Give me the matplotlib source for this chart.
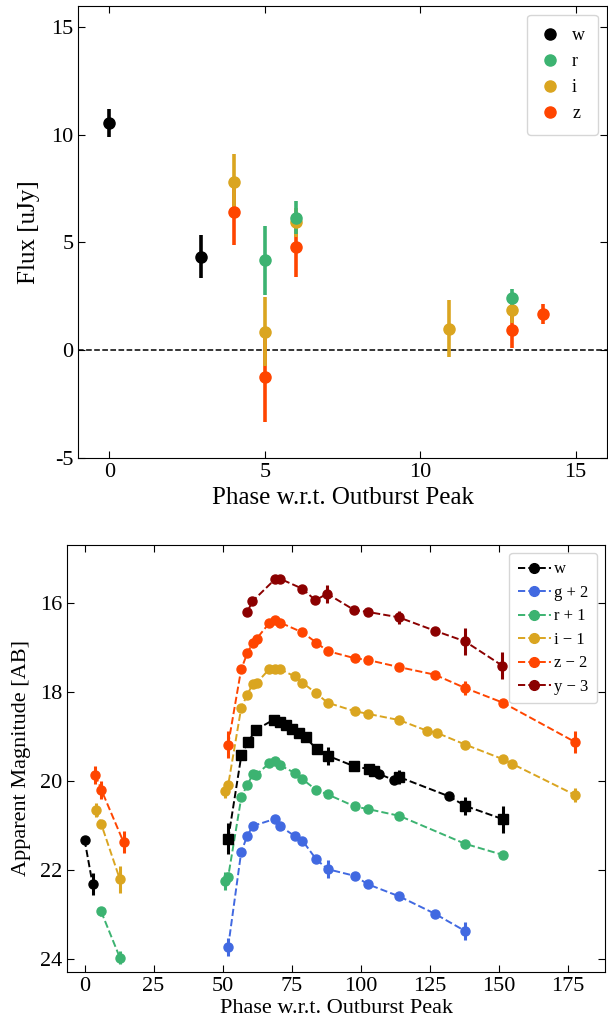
import numpy as np
import matplotlib
matplotlib.use("Agg")
import matplotlib.pyplot as plt

plt.rcParams['font.family'] = ['Liberation Serif', 'DejaVu Serif']
plt.rcParams['axes.unicode_minus'] = False

# ---------------- Top panel: flux ----------------
w_flux_x = [0.0, 2.95]
w_flux = [10.53, 4.34]
w_flux_err = [0.65, 0.99]

r_flux_x = [5.0, 6.0, 12.94]
r_flux = [4.18, 6.15, 2.40]
r_flux_err = [1.6, 0.77, 0.43]

i_flux_x = [4.0, 5.0, 6.0, 10.93, 12.94]
i_flux = [7.82, 0.85, 5.93, 0.99, 1.88]
i_flux_err = [1.3, 1.6, 0.66, 1.32, 0.6]

z_flux_x = [4.0, 5.0, 6.0, 12.94, 13.95]
z_flux = [6.40, -1.24, 4.80, 0.93, 1.66]
z_flux_err = [1.5, 2.1, 1.4, 0.83, 0.47]

# ---------------- Bottom panel: magnitudes (offset applied) ----------------
w_x = [0.0, 2.9, 52.0, 56.8, 59.2, 62.0, 68.5, 70.8, 72.9, 75.0, 77.5, 80.0, 84.0,
       88.0, 97.7, 102.9, 104.8, 106.6, 112.1, 113.9, 131.8, 137.9, 151.6]
w_mag = [21.33, 22.32, 21.31, 19.42, 19.13, 18.86, 18.63, 18.68, 18.74, 18.83, 18.93,
         19.03, 19.29, 19.44, 19.68, 19.74, 19.79, 19.85, 19.99, 19.92, 20.35, 20.57, 20.87]
w_err = [0.05, 0.25, 0.35, 0.05, 0.05, 0.05, 0.05, 0.05, 0.05, 0.05, 0.05, 0.05, 0.05,
         0.2, 0.05, 0.05, 0.05, 0.05, 0.05, 0.15, 0.05, 0.2, 0.3]
w_marker = ['o', 'o', 's', 's', 's', 's', 's', 's', 's', 's', 's', 's', 's',
            's', 's', 's', 's', 'o', 'o', 's', 'o', 's', 's']

g_x = [52.0, 56.7, 58.9, 60.9, 68.9, 70.7, 76.2, 78.9, 83.9, 88.0, 97.8, 102.6,
       113.9, 126.8, 137.8]
g_mag = [23.73, 21.61, 21.24, 21.02, 20.86, 21.02, 21.25, 21.35, 21.77, 21.99, 22.14,
         22.33, 22.60, 22.99, 23.38]
g_err = [0.2, 0.05, 0.05, 0.05, 0.05, 0.05, 0.05, 0.05, 0.05, 0.2, 0.05, 0.05,
         0.05, 0.05, 0.2]

r_x = [6.0, 12.8, 50.8, 52.0, 56.8, 58.9, 60.9, 62.1, 66.9, 68.9, 70.9, 76.2, 78.9,
       83.9, 88.0, 97.8, 102.6, 113.9, 137.8, 151.5]
r_mag = [22.94, 23.98, 22.25, 22.16, 20.36, 20.10, 19.86, 19.87, 19.61, 19.57, 19.66,
         19.83, 19.97, 20.21, 20.31, 20.58, 20.64, 20.79, 21.42, 21.67]
r_err = [0.1, 0.15, 0.2, 0.1, 0.05, 0.05, 0.05, 0.05, 0.05, 0.05, 0.05, 0.05, 0.05,
         0.05, 0.05, 0.05, 0.05, 0.05, 0.05, 0.05]

i_x = [4.0, 6.0, 12.8, 50.8, 52.0, 56.7, 58.9, 60.9, 62.4, 66.8, 68.9, 70.9, 76.1,
       78.9, 83.9, 88.0, 97.8, 102.6, 113.9, 124.0, 127.7, 137.8, 151.5, 154.7, 177.5]
i_mag = [20.66, 20.97, 22.22, 20.24, 20.10, 18.37, 18.07, 17.83, 17.80, 17.50, 17.50,
         17.50, 17.66, 17.80, 18.04, 18.25, 18.44, 18.50, 18.64, 18.88, 18.93, 19.19,
         19.52, 19.62, 20.32]
i_err = [0.15, 0.05, 0.3, 0.15, 0.1, 0.05, 0.05, 0.05, 0.05, 0.05, 0.05, 0.05, 0.05,
         0.05, 0.05, 0.05, 0.05, 0.05, 0.05, 0.05, 0.05, 0.05, 0.05, 0.05, 0.15]

z_x = [3.9, 6.1, 14.1, 52.0, 56.7, 58.9, 60.9, 62.3, 66.9, 69.0, 70.8, 78.9, 83.9,
       88.0, 97.8, 102.6, 113.9, 126.8, 137.8, 151.5, 177.5]
z_mag = [19.87, 20.21, 21.38, 19.19, 17.50, 17.14, 16.90, 16.81, 16.46, 16.40, 16.45,
         16.67, 16.90, 17.09, 17.25, 17.29, 17.45, 17.62, 17.92, 18.25, 19.13]
z_err = [0.2, 0.2, 0.25, 0.3, 0.05, 0.05, 0.05, 0.05, 0.05, 0.05, 0.05, 0.05, 0.05,
         0.05, 0.05, 0.05, 0.05, 0.05, 0.15, 0.05, 0.25]

y_x = [58.9, 60.8, 68.9, 70.6, 78.9, 83.6, 87.8, 97.7, 102.5, 113.7, 126.7, 137.7, 151.3]
y_mag = [16.21, 15.97, 15.48, 15.46, 15.69, 15.95, 15.80, 16.17, 16.21, 16.33, 16.63,
         16.87, 17.42]
y_err = [0.05, 0.05, 0.05, 0.05, 0.05, 0.05, 0.2, 0.05, 0.05, 0.15, 0.05, 0.3, 0.3]

band_labels = ['w', 'g + 2', 'r + 1', 'i \u2212 1', 'z \u2212 2', 'y \u2212 3']
band_colors = ['black', 'royalblue', 'mediumseagreen', 'goldenrod', 'orangered', 'darkred']

fig = plt.figure(figsize=(6.08, 10.21), dpi=100)

# ---------------- Top axes ----------------
ax1 = fig.add_axes([0.1288, 0.5517, 0.998 - 0.1288, 0.9944 - 0.5517])
ax1.axhline(0, color='black', ls='--', lw=1.1, zorder=1)
top_sets = [
    ('w', w_flux_x, w_flux, w_flux_err, 'black'),
    ('z', z_flux_x, z_flux, z_flux_err, 'orangered'),
    ('i', i_flux_x, i_flux, i_flux_err, 'goldenrod'),
    ('r', r_flux_x, r_flux, r_flux_err, 'mediumseagreen'),
]
colors_top = {}
for lab, x, y, e, c in top_sets:
    ax1.errorbar(x, y, yerr=e, fmt='o', color=c, ms=8, elinewidth=2.6,
                 capsize=0, zorder=3)
    colors_top[lab] = c
order = ['w', 'r', 'i', 'z']
top_handles = [plt.Line2D([], [], ls='none', marker='o', ms=8, color=colors_top[k])
               for k in order]
ax1.legend(top_handles, order, loc='upper right', fontsize=13, handlelength=1.2,
           handletextpad=0.6, borderpad=0.7, labelspacing=0.5)
ax1.set_xlim(-1, 16)
ax1.set_ylim(-5, 16)
ax1.set_xticks([0, 5, 10, 15])
ax1.set_yticks([-5, 0, 5, 10, 15])
ax1.tick_params(direction='in', top=True, right=True, labelsize=16, length=5)
ax1.set_xlabel('Phase w.r.t. Outburst Peak', fontsize=18, labelpad=4)
ax1.set_ylabel('Flux [uJy]', fontsize=18, labelpad=8)

# ---------------- Bottom axes ----------------
ax2 = fig.add_axes([0.110, 0.0480, 0.9954 - 0.110, 0.4665 - 0.0480])


def segments(x, y):
    x = np.asarray(x, float)
    y = np.asarray(y, float)
    breaks = np.where(np.diff(x) > 30)[0] + 1
    return zip(np.split(x, breaks), np.split(y, breaks))


bottom_sets = [
    (w_x, w_mag, w_err),
    (g_x, g_mag, g_err),
    (r_x, r_mag, r_err),
    (i_x, i_mag, i_err),
    (z_x, z_mag, z_err),
    (y_x, y_mag, y_err),
]
leg_handles = []
for (x, y, e), lab, c in zip(bottom_sets, band_labels, band_colors):
    for sx, sy in segments(x, y):
        ax2.plot(sx, sy, ls='--', color=c, lw=1.4, zorder=2)
    if lab == 'w':
        xs = np.asarray(x); ys = np.asarray(y); es = np.asarray(e)
        mk = np.asarray(w_marker)
        for m in ['o', 's']:
            sel = mk == m
            ax2.errorbar(xs[sel], ys[sel], yerr=es[sel], fmt=m, color=c,
                         ms=6.5, elinewidth=2.2, capsize=0, zorder=3)
    else:
        ax2.errorbar(x, y, yerr=e, fmt='o', color=c, ms=6.5, elinewidth=2.2,
                     capsize=0, zorder=3)
    leg_handles.append(plt.Line2D([], [], color=c, ls='--', lw=1.4, marker='o', ms=7))

ax2.legend(leg_handles, band_labels, loc='upper right', fontsize=12,
           handletextpad=0.2, borderpad=0.5, labelspacing=0.45, handlelength=2.0)
ax2.set_xlim(-6.4, 188.5)
ax2.set_ylim(24.3, 14.7)
ax2.set_xticks([0, 25, 50, 75, 100, 125, 150, 175])
ax2.set_yticks([16, 18, 20, 22, 24])
ax2.tick_params(direction='in', top=True, right=True, labelsize=16, length=5)
ax2.set_xlabel('Phase w.r.t. Outburst Peak', fontsize=16, labelpad=2)
ax2.set_ylabel('Apparent Magnitude [AB]', fontsize=16, labelpad=6)

fig.savefig('out.png', dpi=100)
